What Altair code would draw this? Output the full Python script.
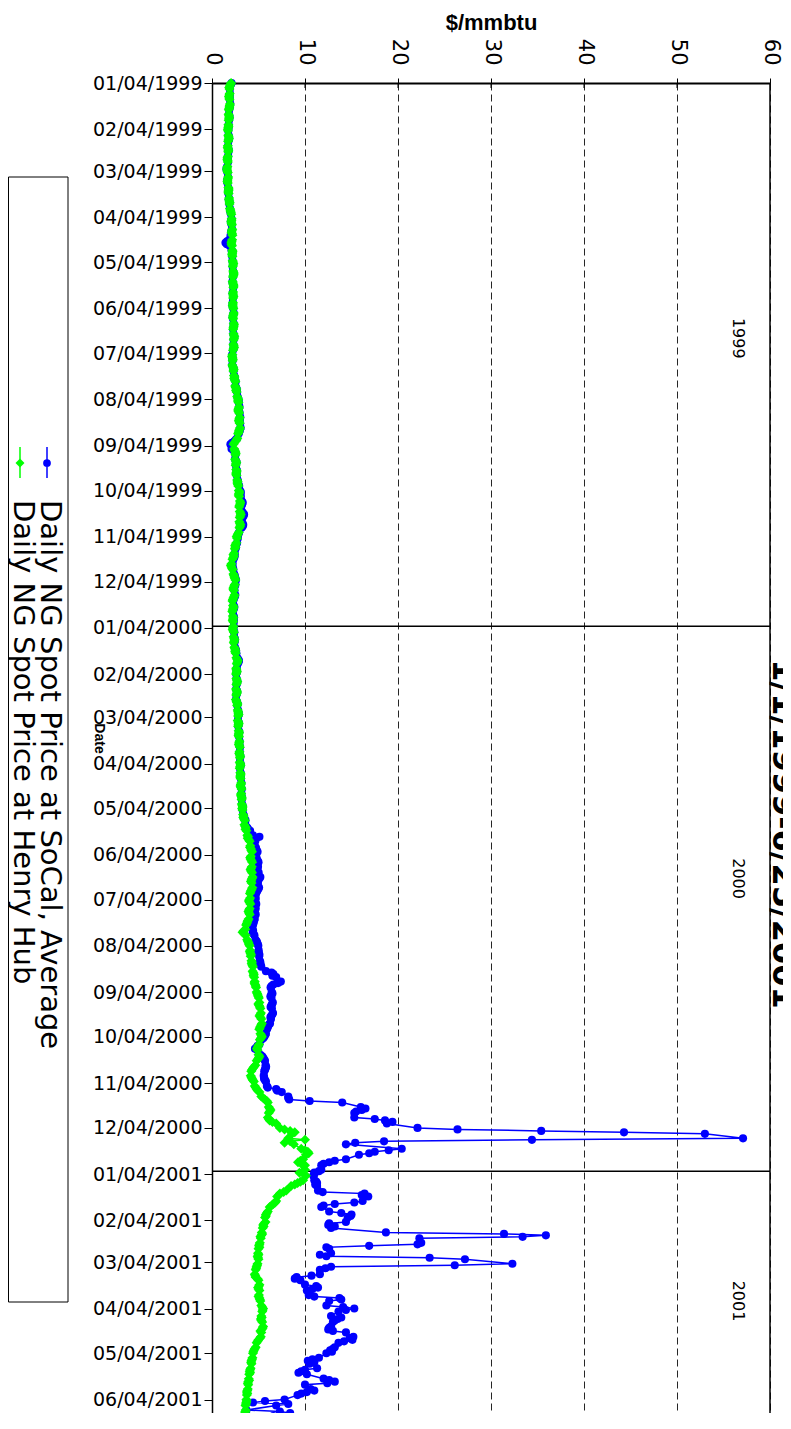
import altair as alt
import pandas as pd

START = "1999-01-04"
END = "2001-06-25"
VIEW_END = "2001-06-13"   # last date that fits inside the window

# ---- daily Henry Hub spot price ($/mmbtu), one list per month ----
hh_1999 = [
    [2.05,1.98,1.92,1.85,1.88,1.90,1.86,1.82,1.85,1.88,1.93,1.90,1.87,1.84,1.80,1.78,1.82,1.85,1.83,1.79],
    [1.76,1.78,1.74,1.70,1.72,1.75,1.79,1.82,1.78,1.73,1.70,1.68,1.72,1.76,1.74,1.71,1.66,1.64,1.68,1.70],
    [1.66,1.62,1.60,1.64,1.70,1.74,1.71,1.68,1.65,1.70,1.76,1.80,1.78,1.74,1.79,1.84,1.82,1.86,1.90,1.88,1.93,1.97,2.00],
    [2.04,2.08,2.12,2.10,2.06,2.10,2.15,2.18,2.14,2.10,2.16,2.20,2.17,2.12,2.08,2.10,2.15,2.19,2.22,2.18,2.16,2.20],
    [2.22,2.26,2.30,2.27,2.24,2.28,2.32,2.35,2.30,2.26,2.22,2.25,2.29,2.33,2.30,2.27,2.24,2.28,2.31,2.27,2.25],
    [2.25,2.22,2.26,2.30,2.34,2.31,2.27,2.24,2.28,2.33,2.37,2.34,2.30,2.27,2.31,2.36,2.40,2.37,2.33,2.30,2.34,2.38],
    [2.32,2.26,2.20,2.16,2.20,2.25,2.22,2.18,2.24,2.30,2.34,2.30,2.36,2.42,2.38,2.45,2.52,2.48,2.55,2.62,2.58,2.65],
    [2.70,2.76,2.82,2.78,2.85,2.90,2.86,2.80,2.84,2.92,2.98,2.94,2.88,2.92,2.97,3.02,2.96,2.90,2.86,2.80,2.72,2.64],
    [2.55,2.40,2.32,2.38,2.45,2.50,2.56,2.52,2.48,2.55,2.62,2.58,2.54,2.60,2.66,2.62,2.58,2.64,2.70,2.75,2.72,2.78],
    [2.82,2.88,2.95,2.90,2.86,2.92,3.00,3.06,3.02,2.96,2.92,2.98,3.05,3.10,3.04,2.98,2.94,3.00,3.06,3.02,2.95],
    [2.88,2.80,2.72,2.65,2.70,2.62,2.55,2.48,2.52,2.45,2.38,2.30,2.36,2.28,2.20,2.10,2.02,2.08,2.15,2.22,2.30,2.36],
    [2.40,2.46,2.52,2.45,2.38,2.32,2.28,2.35,2.42,2.38,2.30,2.24,2.20,2.26,2.32,2.28,2.22,2.18,2.24,2.30,2.26,2.22,2.28],
]
hh_2000 = [
    [2.30,2.26,2.22,2.28,2.35,2.32,2.38,2.42,2.38,2.34,2.40,2.46,2.52,2.48,2.55,2.62,2.70,2.78,2.72,2.66,2.60],
    [2.62,2.68,2.64,2.58,2.62,2.66,2.72,2.68,2.62,2.58,2.64,2.70,2.66,2.60,2.56,2.62,2.68,2.74,2.70,2.76,2.80],
    [2.82,2.86,2.80,2.76,2.82,2.88,2.84,2.80,2.86,2.92,2.88,2.84,2.90,2.95,2.92,2.88,2.94,3.00,2.96,2.92,2.98,3.04,3.00],
    [2.98,3.04,3.08,3.02,2.98,3.04,3.10,3.06,3.02,3.08,3.14,3.10,3.06,3.12,3.18,3.14,3.10,3.16,3.22,3.18],
    [3.20,3.26,3.30,3.24,3.28,3.34,3.40,3.36,3.44,3.52,3.48,3.56,3.64,3.60,3.70,3.80,3.88,3.84,3.95,4.05,4.12,4.08,4.18],
    [4.22,4.30,4.18,4.10,4.16,4.24,4.32,4.28,4.20,4.14,4.22,4.30,4.36,4.30,4.24,4.18,4.26,4.34,4.28,4.20,4.14,4.08],
    [4.10,4.02,3.96,4.04,4.12,4.06,3.98,3.92,3.98,4.06,3.94,3.86,3.80,3.74,3.66,3.58,3.40,3.28,3.45,3.62,3.78],
    [3.86,3.92,3.98,4.04,4.10,4.06,4.14,4.20,4.16,4.24,4.30,4.26,4.34,4.40,4.36,4.44,4.50,4.46,4.54,4.60,4.56,4.64,4.70],
    [4.74,4.80,4.86,4.92,4.98,5.04,5.10,4.98,5.06,5.14,5.20,5.26,5.18,5.10,5.22,5.30,5.36,5.28,5.20,5.14,5.08],
    [5.20,5.30,5.36,5.24,5.14,5.06,4.98,4.90,4.82,4.90,5.00,5.10,5.04,4.92,4.80,4.66,4.52,4.40,4.30,4.22,4.16,4.24],
    [4.30,4.40,4.50,4.60,4.70,4.80,4.90,5.10,5.30,5.50,5.70,5.90,6.00,6.10,6.20,6.30,6.20,6.10,6.00,6.10,6.20,6.50],
    [6.90,7.30,7.80,8.40,8.90,8.60,8.20,10.00,8.40,7.80,8.80,9.60,10.00,10.30,10.40,10.10,9.80,9.50,9.25,9.60,10.00],
]
hh_2001 = [
    [10.00,9.80,9.40,9.90,10.10,9.80,9.50,9.20,8.90,8.50,8.00,7.70,7.30,7.20,7.00,6.90,6.80,6.60,6.40,6.20,6.00,5.90,5.80],
    [5.80,5.70,5.75,5.60,5.50,5.55,5.45,5.35,5.40,5.30,5.20,5.25,5.15,5.10,5.05,5.10,5.00,4.95,5.00,4.90],
    [4.95,5.00,4.90,4.85,4.80,4.75,4.70,4.60,4.65,4.70,4.90,5.00,5.10,5.05,4.95,5.00,5.10,5.05,5.00,5.10,5.15,5.20],
    [5.30,5.40,5.50,5.45,5.40,5.30,5.35,5.25,5.30,5.40,5.50,5.45,5.35,5.20,5.30,5.25,5.15,5.00,4.90,4.80,4.70],
    [4.60,4.50,4.45,4.40,4.35,4.30,4.25,4.20,4.25,4.15,4.10,4.05,4.10,4.00,3.95,4.00,3.90,3.85,3.90,3.85,3.80,3.75,3.80],
    [3.75,3.70,3.72,3.68,3.65,3.60,3.62,3.58,3.55,3.50,3.52,3.48,3.45,3.42,3.40,3.38,3.35],
]

# ---- daily SoCal average spot price ($/mmbtu), one list per month ----
socal_1999 = [
    [2.10,2.02,1.95,1.90,1.91,1.93,1.90,1.86,1.88,1.92,1.96,1.94,1.90,1.88,1.84,1.82,1.86,1.88,1.86,1.83],
    [1.79,1.81,1.77,1.73,1.75,1.78,1.82,1.85,1.81,1.76,1.73,1.71,1.75,1.79,1.77,1.74,1.69,1.67,1.71,1.73],
    [1.64,1.58,1.56,1.62,1.68,1.72,1.69,1.66,1.62,1.67,1.74,1.78,1.76,1.72,1.77,1.82,1.80,1.85,1.88,1.86,1.92,1.95,1.98],
    [2.00,2.05,2.10,2.08,2.02,2.06,2.12,2.15,2.10,2.05,2.08,2.00,1.85,1.62,1.45,1.60,1.90,2.10,2.20,2.16,2.14,2.18],
    [2.20,2.24,2.28,2.26,2.22,2.26,2.30,2.34,2.29,2.24,2.20,2.23,2.27,2.31,2.29,2.25,2.22,2.26,2.29,2.25,2.23],
    [2.24,2.20,2.24,2.29,2.33,2.30,2.26,2.22,2.26,2.32,2.36,2.33,2.29,2.26,2.30,2.35,2.40,2.36,2.32,2.29,2.33,2.37],
    [2.31,2.25,2.18,2.14,2.19,2.24,2.21,2.17,2.24,2.30,2.35,2.31,2.38,2.44,2.40,2.47,2.55,2.51,2.58,2.66,2.62,2.70],
    [2.74,2.80,2.86,2.82,2.89,2.95,2.91,2.85,2.89,2.97,3.04,3.00,2.94,2.98,3.03,3.08,3.02,2.96,2.92,2.86,2.70,2.55],
    [2.40,2.15,1.98,2.10,2.30,2.45,2.55,2.52,2.48,2.56,2.64,2.60,2.56,2.63,2.70,2.66,2.62,2.68,2.75,2.80,2.78,2.85],
    [2.92,3.00,3.10,3.06,3.02,3.10,3.20,3.30,3.25,3.18,3.12,3.20,3.32,3.45,3.38,3.28,3.20,3.28,3.36,3.30,3.18],
    [2.92,2.85,2.78,2.72,2.78,2.70,2.62,2.55,2.58,2.52,2.45,2.38,2.44,2.36,2.30,2.22,2.15,2.18,2.24,2.30,2.38,2.44],
    [2.46,2.52,2.58,2.52,2.45,2.38,2.34,2.42,2.50,2.45,2.38,2.31,2.27,2.33,2.40,2.35,2.29,2.25,2.31,2.37,2.33,2.29,2.35],
]
socal_2000 = [
    [2.34,2.30,2.26,2.32,2.40,2.37,2.43,2.48,2.44,2.40,2.46,2.52,2.58,2.54,2.62,2.70,2.80,2.90,2.84,2.76,2.68],
    [2.64,2.70,2.66,2.60,2.64,2.68,2.74,2.70,2.64,2.60,2.66,2.72,2.68,2.62,2.58,2.64,2.70,2.76,2.72,2.78,2.82],
    [2.84,2.88,2.82,2.78,2.84,2.90,2.86,2.82,2.88,2.94,2.90,2.86,2.92,2.97,2.94,2.90,2.96,3.02,2.98,2.94,3.00,3.06,3.02],
    [3.00,3.06,3.10,3.04,3.00,3.06,3.12,3.08,3.04,3.10,3.16,3.12,3.08,3.14,3.20,3.16,3.12,3.18,3.24,3.20],
    [3.22,3.28,3.32,3.26,3.30,3.36,3.44,3.40,3.50,3.60,3.56,3.66,3.80,3.90,4.10,4.40,5.10,4.70,4.60,4.65,4.55,4.70,4.75],
    [4.80,4.90,4.76,4.70,4.82,4.92,5.00,4.95,4.86,4.78,4.88,5.02,5.20,5.10,4.96,4.86,4.94,5.06,4.98,4.88,4.80,4.74],
    [4.70,4.66,4.60,4.68,4.76,4.70,4.62,4.56,4.62,4.70,4.60,4.52,4.48,4.44,4.40,4.36,4.42,4.38,4.46,4.56,4.68],
    [4.80,4.86,4.92,4.98,5.02,4.96,5.04,5.10,5.06,5.14,5.20,5.16,5.24,5.30,5.80,6.40,6.60,6.50,6.90,7.40,7.10,6.60,6.40],
    [6.30,6.42,6.50,6.36,6.28,6.40,6.54,6.46,6.38,6.30,6.44,6.56,6.48,6.36,6.28,6.34,6.24,6.10,6.02,5.96,5.90],
    [5.80,5.70,5.62,5.50,5.30,5.10,4.90,4.80,4.62,4.90,5.20,5.40,5.50,5.60,5.70,5.76,5.82,5.76,5.70,5.62,5.56,5.60],
    [5.60,5.70,5.80,5.90,6.00,6.90,7.00,7.50,8.20,8.20,8.30,10.50,14.00,16.00,16.50,16.10,15.50,15.30,15.30,17.50,18.60,19.40],
    [18.80,22.10,26.40,35.40,44.30,53.00,57.10,34.40,18.50,15.40,14.40,20.40,19.00,17.50,16.90,15.80,14.40,13.20,12.60,12.00,11.75],
]
socal_2001 = [
    [11.75,11.50,11.00,11.00,10.90,11.00,11.20,11.30,11.10,11.30,11.40,11.90,16.40,16.10,16.80,16.20,15.30,13.20,12.00,11.75,12.60,13.90,15.00],
    [14.90,14.60,14.40,12.60,12.50,13.20,12.80,18.70,31.40,35.90,33.40,22.30,22.50,22.10,16.90,12.30,12.60,12.80,11.60,12.30],
    [23.40,27.20,32.30,26.10,12.80,12.20,11.60,11.60,10.70,9.10,8.90,9.50,10.00,11.20,11.40,10.80,10.20,10.40,11.00,13.70,13.90,12.60],
    [12.30,14.10,15.30,14.40,13.60,12.80,13.90,13.50,13.20,13.00,12.80,12.60,12.50,13.00,14.40,15.20,14.80,15.10,14.20,13.60,13.20],
    [13.00,12.70,12.90,12.30,11.50,10.80,10.30,11.00,10.50,11.30,10.00,9.60,9.30,10.20,12.00,12.60,13.20,12.40,10.00,10.60,11.00,10.20,9.60],
    [9.20,7.80,5.70,4.40,8.20,6.90,3.70,7.30,8.40,3.70,6.60,4.40,2.80,7.60,3.20,6.00,3.50],
]

series_names = ["Daily NG Spot Price at SoCal, Average", "Daily NG Spot Price at Henry Hub"]
series_colors = ["#0000ff", "#00ff00"]

y_tick_dates = [
    "1999-01-04", "1999-02-04", "1999-03-04", "1999-04-04", "1999-05-04", "1999-06-04",
    "1999-07-04", "1999-08-04", "1999-09-04", "1999-10-04", "1999-11-04", "1999-12-04",
    "2000-01-04", "2000-02-04", "2000-03-04", "2000-04-04", "2000-05-04", "2000-06-04",
    "2000-07-04", "2000-08-04", "2000-09-04", "2000-10-04", "2000-11-04", "2000-12-04",
    "2001-01-04", "2001-02-04", "2001-03-04", "2001-04-04", "2001-05-04", "2001-06-04",
]
x_tick_values = [0, 10, 20, 30, 40, 50, 60]
year_separators = ["2000-01-03", "2001-01-02"]
year_labels = ["1999", "2000", "2001"]
year_label_dates = ["1999-06-24", "2000-06-20", "2001-03-30"]
year_label_price = 56.6
chart_title = "1/1/1999-6/25/2001"


def build(name, year_lists):
    rows = []
    lo, hi = pd.Timestamp(START), pd.Timestamp(END)
    for year, months in year_lists:
        for mi, vals in enumerate(months):
            first = pd.Timestamp(year, mi + 1, 1)
            last = first + pd.offsets.MonthEnd(0)
            days = pd.bdate_range(first, last)
            days = days[(days >= lo) & (days <= hi)]
            n = min(len(days), len(vals))
            for d, v in zip(days[:n], vals[:n]):
                rows.append({"date": d.strftime("%Y-%m-%dT00:00:00"), "price": v, "series": name})
    df = pd.DataFrame(rows)
    df["idx"] = range(len(df))
    return df


socal_df = build(series_names[0], [(1999, socal_1999), (2000, socal_2000), (2001, socal_2001)])
hh_df = build(series_names[1], [(1999, hh_1999), (2000, hh_2000), (2001, hh_2001)])


def dt(s):
    t = pd.Timestamp(s)
    return alt.DateTime(year=t.year, month=t.month, date=t.day)


x_scale = alt.Scale(domain=[0, 60], nice=False, zero=True)
y_scale = alt.Scale(domain=[dt(START), dt(VIEW_END)], reverse=True, nice=False)

x_axis = alt.Axis(
    orient="top", values=x_tick_values, labelAngle=90, labelAlign="right", labelBaseline="middle",
    labelFlush=False, labelFont="DejaVu Sans", labelFontSize=21, labelColor="black", labelPadding=13,
    tickSize=5, tickColor="black", domainColor="black", domainWidth=2,
    grid=True, gridColor="black", gridDash=[7, 4], gridWidth=1, gridOpacity=0.85,
    title="$/mmbtu", titleFont="Liberation Sans", titleFontSize=22, titleFontWeight="bold",
    titleColor="black", titlePadding=4,
)
y_axis = alt.Axis(
    values=[dt(s) for s in y_tick_dates], format="%m/%d/%Y", labelFont="DejaVu Sans",
    labelFontSize=19, labelColor="black", labelPadding=2, labelOverlap=False,
    tickSize=8, tickColor="black", domainColor="black", domainWidth=1.5, grid=False,
    title="Date", titleAngle=90, titleX=-114, titleY=655, titleAlign="center", titleBaseline="middle",
    titleFont="Liberation Sans", titleFontSize=14, titleFontWeight="bold", titleColor="black",
)


def X(field):
    return alt.X(field, scale=x_scale, axis=x_axis)


def Y(field):
    return alt.Y(field, scale=y_scale, axis=y_axis)


socal_line = alt.Chart(socal_df).mark_line(color=series_colors[0], strokeWidth=1.5).encode(
    x=X("price:Q"), y=Y("date:T"), order=alt.Order("idx:Q"))
socal_pts = alt.Chart(socal_df).mark_point(shape="circle", filled=True, size=66, opacity=1,
                                             color=series_colors[0]).encode(x=X("price:Q"), y=Y("date:T"))
hh_line = alt.Chart(hh_df).mark_line(color=series_colors[1], strokeWidth=1.5).encode(
    x=X("price:Q"), y=Y("date:T"), order=alt.Order("idx:Q"))
hh_pts = alt.Chart(hh_df).mark_point(shape="diamond", filled=True, size=100, opacity=1,
                                       color=series_colors[1]).encode(x=X("price:Q"), y=Y("date:T"))

sep = alt.Chart(pd.DataFrame({"date": year_separators})).mark_rule(color="black", strokeWidth=1.5).encode(
    y=Y("date:T"))
right_border = alt.Chart(pd.DataFrame({"price": [60]})).mark_rule(color="black", strokeWidth=1.5).encode(
    x=X("price:Q"))
inner_ticks = alt.Chart(pd.DataFrame({"price": x_tick_values[1:-1]})).mark_rule(color="black", strokeWidth=1).encode(
    x=X("price:Q"), y=alt.value(0), y2=alt.value(5))

years = alt.Chart(pd.DataFrame({"label": year_labels, "date": year_label_dates, "price": year_label_price})).mark_text(
    angle=90, align="center", baseline="middle", font="DejaVu Sans", fontSize=16, color="black").encode(
    x=X("price:Q"), y=Y("date:T"), text="label:N")

title_txt = alt.Chart(pd.DataFrame({"t": [chart_title]})).mark_text(
    angle=90, align="center", baseline="alphabetic", font="DejaVu Sans", fontWeight="bold",
    fontSize=32, color="black").encode(x=alt.value(561), y=alt.value(751), text="t:N")

one = pd.DataFrame({"k": [0]})
legend_box = alt.Chart(one).mark_rect(fill="white", stroke="black", strokeWidth=1).encode(
    x=alt.value(-203.5), x2=alt.value(-144), y=alt.value(94), y2=alt.value(1219))

leg_layers = []
for i, (name, col, shp, sz) in enumerate(zip(series_names, series_colors, ["circle", "diamond"], [60, 80])):
    xp = -165 - 27 * i
    leg_layers.append(alt.Chart(one).mark_rule(color=col, strokeWidth=1.5).encode(
        x=alt.value(xp), y=alt.value(364), y2=alt.value(395)))
    leg_layers.append(alt.Chart(one).mark_point(shape=shp, filled=True, size=sz, opacity=1, color=col).encode(
        x=alt.value(xp), y=alt.value(380)))
    leg_layers.append(alt.Chart(pd.DataFrame({"t": [name]})).mark_text(
        angle=90, align="left", baseline="alphabetic", font="DejaVu Sans", fontSize=29, color="black").encode(
        x=alt.value(xp - 6), y=alt.value(417), text="t:N"))

chart = alt.layer(
    legend_box, *leg_layers, sep, right_border, inner_ticks, socal_line, socal_pts, hh_line, hh_pts,
    years, title_txt
).properties(
    width=558, height=1330,
    padding={"left": 204, "top": 75, "right": 13, "bottom": 0},
    autosize=alt.AutoSizeParams(type="none"),
    background="white",
).configure_view(strokeOpacity=0)

chart.save("out.html", embed_options={"renderer": "svg", "actions": False})
